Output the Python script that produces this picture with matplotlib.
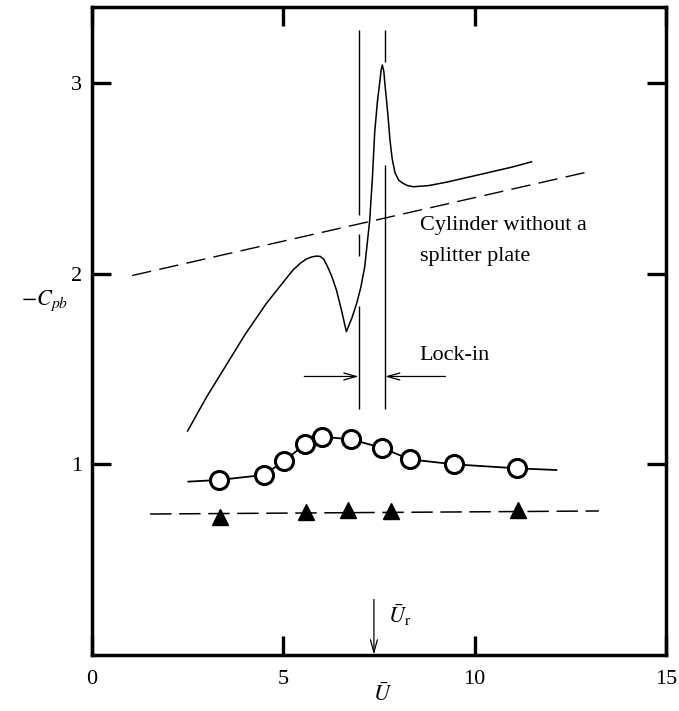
import numpy as np
import matplotlib.pyplot as plt

plt.rcParams['font.family'] = ['Liberation Serif', 'DejaVu Serif']
plt.rcParams['mathtext.fontset'] = 'stix'

# cylinder with splitter plate, solid curve
splitter_u = [2.50, 3.0, 3.43, 4.0, 4.56, 5.0, 5.26, 5.45, 5.61, 5.75, 5.87, 5.97, 6.06,
              6.15, 6.27, 6.39, 6.52, 6.65, 6.80, 6.92, 7.03, 7.13, 7.26, 7.33, 7.39,
              7.46, 7.52, 7.56, 7.59, 7.63, 7.66, 7.70, 7.75, 7.79, 7.85, 7.92, 8.02,
              8.13, 8.25, 8.40, 8.8, 9.27, 10.14, 11.0, 11.49]
splitter_cp = [1.174, 1.354, 1.494, 1.68, 1.844, 1.955, 2.02, 2.055, 2.077, 2.088, 2.092,
               2.09, 2.075, 2.04, 1.985, 1.914, 1.81, 1.695, 1.77, 1.844, 1.93, 2.036,
               2.28, 2.50, 2.74, 2.90, 3.0, 3.07, 3.095, 3.06, 2.99, 2.91, 2.80, 2.70,
               2.60, 2.53, 2.49, 2.474, 2.462, 2.456, 2.462, 2.48, 2.52, 2.56, 2.587]

# cylinder without a splitter plate, dashed line
plain_u = [1.05, 12.88]
plain_cp = [1.99, 2.53]

# open circles (line ends carry no marker)
circ_u = [2.52, 3.33, 4.49, 5.02, 5.58, 6.00, 6.77, 7.57, 8.31, 9.46, 11.10, 12.14]
circ_cp = [0.908, 0.917, 0.943, 1.016, 1.106, 1.144, 1.130, 1.086, 1.025, 0.999, 0.978, 0.969]

# filled triangles
tri_u = [3.35, 5.59, 6.70, 7.81, 11.14]
tri_cp = [0.72, 0.747, 0.759, 0.752, 0.759]
tri_line_u = [1.52, 13.25]
tri_line_cp = [0.738, 0.754]

# lock-in range
lockin_left = 6.97
lockin_right = 7.66
left_segs = [(3.28, 2.31), (2.21, 2.09), (1.83, 1.29)]
right_segs = [(3.28, 3.11), (2.57, 1.29)]
ur = 7.37

fig = plt.figure(figsize=(6.79, 7.11), dpi=100)
ax = fig.add_axes([0.1355, 0.0793, 0.845, 0.911])

ax.plot(splitter_u, splitter_cp, 'k-', lw=1.1)
ax.plot(plain_u, plain_cp, 'k-', lw=1.0, dashes=(14, 6))
ax.plot(circ_u, circ_cp, 'k-', lw=1.3, marker='o', ms=13, mfc='white', mec='k',
        mew=2.2, markevery=list(range(1, len(circ_u) - 1)))
ax.plot(tri_line_u, tri_line_cp, 'k-', lw=1.1, dashes=(14, 5))
ax.plot(tri_u, tri_cp, 'k^', ms=12, ls='none')

for top, bot in left_segs:
    ax.vlines(lockin_left, bot, top, color='k', lw=1.0)
for top, bot in right_segs:
    ax.vlines(lockin_right, bot, top, color='k', lw=1.0)

arrow = dict(arrowstyle='->,head_length=0.9,head_width=0.25', lw=0.9, color='k',
             shrinkA=0, shrinkB=0)
ax.annotate('', xy=(lockin_left, 1.46), xytext=(5.55, 1.46), arrowprops=arrow)
ax.annotate('', xy=(lockin_right, 1.46), xytext=(9.24, 1.46), arrowprops=arrow)
ax.annotate('', xy=(ur, 0.0), xytext=(ur, 0.29), arrowprops=arrow)

ax.text(8.57, 1.57, 'Lock-in', fontsize=16, va='center')
ax.text(8.57, 2.25, 'Cylinder without a', fontsize=16, va='center')
ax.text(8.57, 2.09, 'splitter plate', fontsize=16, va='center')
ax.text(7.73, 0.21, r'$\bar{U}_{\mathrm{r}}$', fontsize=16, va='center')
ax.text(-0.042, 1.86, r'$-C_{pb}$', fontsize=16, va='center', ha='right',
        transform=ax.get_yaxis_transform())

ax.set_xlim(0, 15)
ax.set_ylim(0, 3.4)
ax.set_xticks([0, 5, 10, 15])
ax.set_yticks([1, 2, 3])
ax.tick_params(direction='in', length=14, width=2.4, top=True, right=True,
               labelsize=16)
ax.tick_params(axis='x', pad=11)
ax.tick_params(axis='y', pad=7)
for s in ax.spines.values():
    s.set_linewidth(2.5)
ax.set_xlabel(r'$\bar{U}$', fontsize=16)
ax.xaxis.set_label_coords(0.507, -0.044)

fig.savefig('out.png', dpi=100)
